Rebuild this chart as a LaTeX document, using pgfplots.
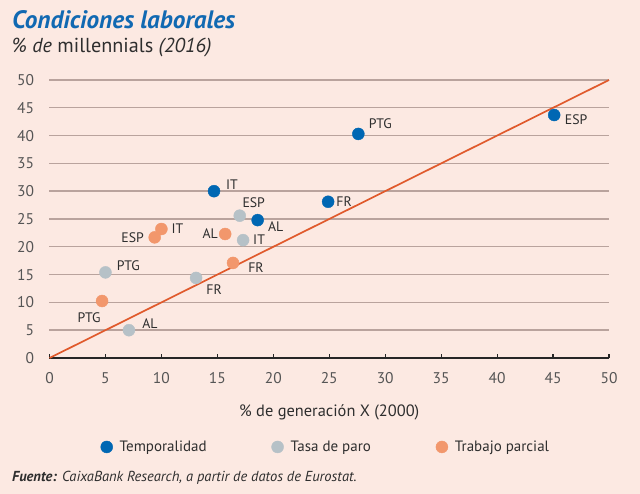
\documentclass[border=0pt]{standalone}
\usepackage{pgfplots}
\pgfplotsset{compat=1.18}
\usepackage{pgfplotstable}
\usepackage{fontspec}
\setmainfont{PT Sans}
\definecolor{bgcol}{HTML}{FCE9E2}
\definecolor{gridcol}{HTML}{B9A39D}
\definecolor{bluec}{HTML}{0067B3}
\definecolor{grayc}{HTML}{B6C1C7}
\definecolor{orangec}{HTML}{F2976C}
\definecolor{linec}{HTML}{E05A2C}
\definecolor{titlec}{HTML}{1169B2}
\definecolor{txt}{HTML}{2E2E2E}
\definecolor{ticktxt}{HTML}{555555}

\pgfplotstableread{
x y lab dx dy
45.1 43.7 ESP 22 -5
27.6 40.3 PTG 22 10
14.7 30.0 IT 18 7
24.9 28.1 FR 16 0
18.6 24.8 AL 18 -6
}\temporal
\pgfplotstableread{
x y lab dx dy
17.0 25.6 ESP 14 13
17.3 21.2 IT 16 0
5.0 15.4 PTG 23 7
13.1 14.4 FR 18 -12
7.1 5.0 AL 21 7
}\paro
\pgfplotstableread{
x y lab dx dy
10.0 23.2 IT 16 0
9.4 21.7 ESP -22 0
15.7 22.3 AL -15 0
16.4 17.1 FR 23 -5
4.7 10.25 PTG -13 -17
}\parcial

\pgfplotsset{labeled/.style={
  only marks, mark=*, mark size=6pt, color=#1, mark options={draw=none, fill=#1},
  nodes near coords={\pgfplotspointmeta},
  point meta=explicit symbolic,
  visualization depends on={\thisrow{dx}\as\dx},
  visualization depends on={\thisrow{dy}\as\dy},
  every node near coord/.append style={anchor=center, xshift=\dx pt, yshift=\dy pt, font=\fontsize{13.8}{16}\selectfont, text=txt, inner sep=0pt},
}}

\begin{document}
\begin{tikzpicture}
\fill[bgcol] (0,0) rectangle (640pt,494pt);
\node[anchor=base west, inner sep=0, text=titlec, font=\fontsize{25.2}{28}\selectfont\bfseries\itshape] at (12pt,465pt) {Condiciones laborales};
\node[anchor=base west, inner sep=0, text=txt, font=\fontsize{20.2}{22}\selectfont] at (12pt,441pt) {\textit{\% de} millennials \textit{(2016)}};
\node[anchor=base west, inner sep=0, text=txt, font=\fontsize{14.5}{16}\selectfont\itshape] at (12pt,12pt) {\textbf{Fuente:} CaixaBank Research, a partir de datos de Eurostat.};
\begin{axis}[
  at={(49.5pt,136pt)}, anchor=origin,
  scale only axis, width=559.5pt, height=278pt,
  xmin=0, xmax=50, ymin=0, ymax=50,
  xtick={0,5,...,50}, ytick={0,5,...,50},
  clip=false,
  axis x line*=bottom, axis y line*=left,
  y axis line style={draw=none},
  x axis line style={color=black!85, line width=1.4pt},
  xtick style={color=black!85, line width=1.2pt},
  ytick style={draw=none},
  tick align=inside, major tick length=4pt,
  ymajorgrids, grid style={color=gridcol, line width=1.4pt},
  /pgf/number format/assume math mode=true,
  tick label style={font=\fontsize{15.5}{18}\selectfont, text=ticktxt},
  yticklabel style={xshift=-12pt},
  xticklabel style={yshift=-11pt},
  xlabel={\% de generación X (2000)},
  xlabel style={at={(axis description cs:0.5,-0.195)}, anchor=center, font=\fontsize{16.4}{18}\selectfont, text=txt},
  legend columns=3,
  legend style={at={(axis description cs:0.494,-0.32)}, anchor=center, draw=none, fill=none,
    font=\fontsize{15}{18}\selectfont, text=txt,
    /tikz/every odd column/.append style={column sep=5pt},
    /tikz/every even column/.append style={column sep=63pt}},
  legend image code/.code={\draw[mark repeat=2,mark phase=2,#1] plot coordinates {(0cm,0cm) (0.2cm,0cm) (0.6cm,0cm)};},
]
\addplot[linec, line width=1.7pt, forget plot] coordinates {(0,0) (50,50)};
\addplot[labeled=bluec] table[x=x, y=y, meta=lab] {\temporal};
\addlegendentry{Temporalidad}
\addplot[labeled=grayc] table[x=x, y=y, meta=lab] {\paro};
\addlegendentry{Tasa de paro}
\addplot[labeled=orangec] table[x=x, y=y, meta=lab] {\parcial};
\addlegendentry{Trabajo parcial}
\end{axis}
\pgfresetboundingbox
\useasboundingbox (0,0) rectangle (640pt,494pt);
\end{tikzpicture}
\end{document}
